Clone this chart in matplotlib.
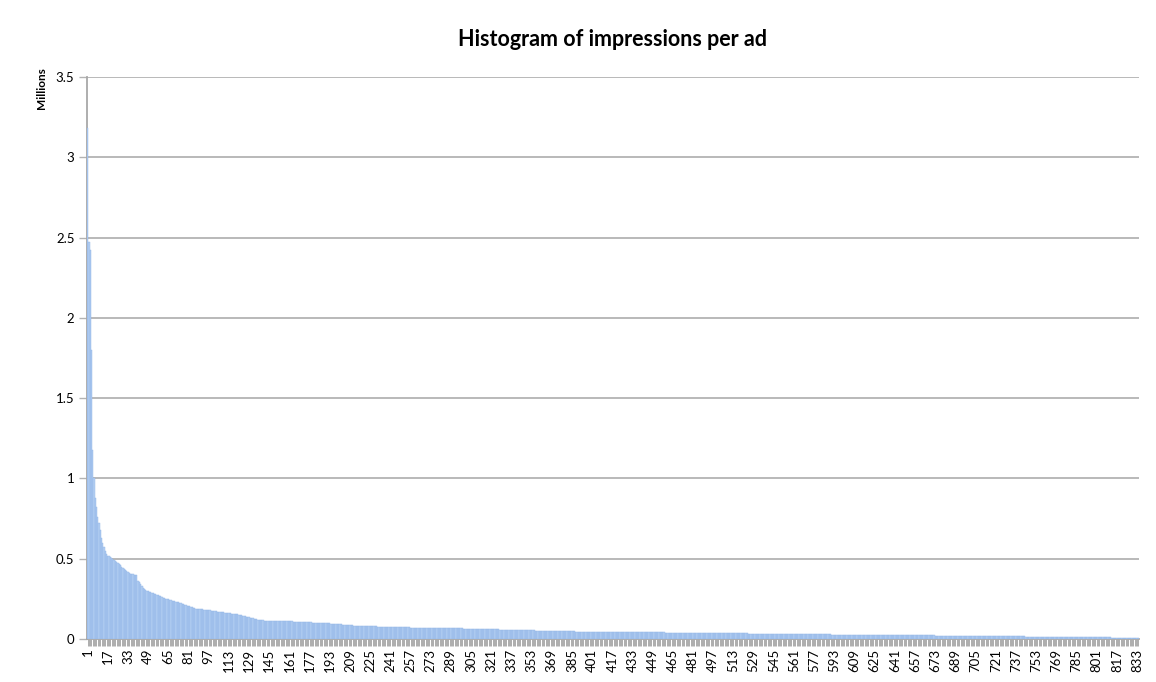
import numpy as np
import matplotlib
matplotlib.use("Agg")
import matplotlib.pyplot as plt

# impressions per ad, in thousands, sorted descending (head read bar by bar)
head_k = [
    3180, 2470, 2420, 1800, 1180, 1000, 880, 820, 760, 720, 680, 630, 600, 570, 550, 530, 520, 518, 510, 502, 498,
    490, 484, 478, 472, 466, 458, 450, 444, 438, 430, 424, 418, 412, 406, 404, 402, 401, 400, 398,
    360, 352, 340, 330, 318, 310,
    305, 302, 298, 295, 292, 289, 286, 283, 280,
    276, 272, 268, 265, 262, 258, 255, 252, 249, 246, 243,
    241, 239, 237, 235, 233, 231, 228, 225,
    222, 219, 216, 213, 210, 207, 205, 203, 200, 197, 194, 191,
    189, 188, 187, 186, 185, 184, 183, 182, 181, 180, 179, 178, 177, 175,
    174, 173, 172, 171, 170, 169, 168, 167, 166, 165, 164, 162, 160,
    159, 158, 157, 156, 155, 154, 153, 151, 149, 147, 145,
    143, 141, 139, 137, 135, 133, 131, 129, 127, 125, 123, 120, 118,
    117, 116, 116, 115, 115, 115, 114, 114, 114, 113, 113, 113, 113, 112, 112, 112, 112, 112,
    111, 111, 111, 110, 110, 110, 109, 109, 108, 108, 107, 107, 106, 106,
    105, 105, 105, 104, 104, 104, 103, 103, 103, 102, 102, 102, 101, 101, 101, 100, 100, 100,
    99, 99, 98, 98, 97, 97, 96, 96, 95, 94, 94, 93, 92, 92, 91, 90, 90, 89, 88, 88, 87, 86, 86, 85, 84, 83, 82,
]

# long flat tail, read as runs: value (thousands) and number of ads at that value
tail_values_k = [82, 81, 80, 79, 78, 77, 76, 75, 74, 73, 72, 71, 70,
                 69, 68, 67, 66, 65, 64, 63, 62,
                 61, 60, 59, 58, 57, 56, 55, 54, 53, 52, 51, 50, 49, 48,
                 47, 46, 45, 44, 43, 42, 41, 40, 39, 38, 37, 36, 35, 34, 33, 32, 31, 30, 29, 28, 27,
                 26, 25, 24, 23, 22, 21, 20, 19, 18, 17, 16, 15, 14, 13, 12, 11, 10, 9, 8]
tail_counts = [1, 3, 4, 4, 4, 4, 4, 4, 4, 5, 5, 5, 5,
               8, 8, 8, 8, 7, 7, 4, 3,
               4, 4, 4, 4, 4, 4, 4, 4, 4, 4, 4, 4, 4, 4,
               12, 12, 12, 12, 12, 12, 11, 11, 11, 11, 11, 11, 11, 11, 11, 11, 11, 11, 11, 11, 11,
               12, 12, 12, 12, 12, 12, 12, 12, 12, 12, 12, 12, 12, 11, 11, 11, 11, 11, 11]

values_k = np.concatenate([np.array(head_k, float),
                           np.repeat(np.array(tail_values_k, float), tail_counts)])
n = len(values_k)
values_m = values_k / 1000.0

y_ticks = [0, 0.5, 1, 1.5, 2, 2.5, 3, 3.5]
y_tick_labels = ["0", "0.5", "1", "1.5", "2", "2.5", "3", "3.5"]

plt.rcParams['font.family'] = ['Lato', 'DejaVu Sans']

fig = plt.figure(figsize=(11.56, 6.82), dpi=100)
ax = fig.add_axes([87/1156, 43/682, (1139-87)/1156, (639-77)/682])

x = np.arange(n)
ax.bar(x, values_m, width=1.0, color='#b4cff2', edgecolor='#8fb4e6', linewidth=0.3, zorder=3)

ax.set_xlim(-0.5, n - 0.5)
ax.set_ylim(0, 3.5)
ax.set_yticks(y_ticks)
ax.set_yticklabels(y_tick_labels, fontsize=9.5)
ax.yaxis.grid(True, color='#b3b3b3', linewidth=1.3, zorder=0)
ax.set_axisbelow(True)

major = np.arange(0, n, 16)
ax.set_xticks(major)
ax.set_xticklabels([str(i + 1) for i in major], rotation=90, fontsize=9.5)
ax.set_xticks(x, minor=True)
ax.tick_params(axis='x', which='both', length=5, width=0.6, color='#a0a0a0', direction='out', pad=2)
ax.tick_params(axis='y', length=6, width=1, color='#b3b3b3', pad=3)

for s in ['top', 'right']:
    ax.spines[s].set_visible(False)
for s in ['left', 'bottom']:
    ax.spines[s].set_color('#a8a8a8')
    ax.spines[s].set_linewidth(1.3)

fig.text(613/1156, 1 - 40/682, "Histogram of impressions per ad", ha='center', va='center',
         fontsize=15.5, fontweight='bold')
fig.text(42/1156, 1 - 88/682, "Millions", rotation=90, ha='center', va='center',
         fontsize=8.5, fontweight='bold')

fig.savefig("out.png", dpi=100)
